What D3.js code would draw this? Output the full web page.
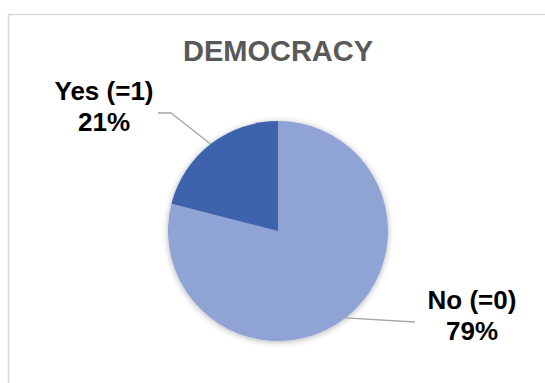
<!DOCTYPE html>
<html><head><meta charset="utf-8">
<script src="https://cdn.jsdelivr.net/npm/d3@7"></script>
<style>body{margin:0;background:#fff}svg{display:block}</style>
</head><body>
<script>
const categories = ["No (=0)", "Yes (=1)"];
const values = [79, 21];
const percentLabels = ["79%", "21%"];
const colors = ["#8FA3D4", "#3D63AD"];
const title = "DEMOCRACY";

const W = 545, H = 383;
const cx = 278, cy = 231, R = 110;
const svg = d3.select("body").append("svg").attr("width", W).attr("height", H);

const defs = svg.append("defs");
const f = defs.append("filter").attr("id", "sh").attr("x", "-20%").attr("y", "-20%").attr("width", "140%").attr("height", "140%");
f.append("feDropShadow").attr("dx", 0).attr("dy", 1).attr("stdDeviation", 3).attr("flood-color", "#000").attr("flood-opacity", 0.3);

svg.append("rect").attr("x", 8.5).attr("y", 14.5).attr("width", 600).attr("height", 400)
  .attr("fill", "#fff").attr("stroke", "#D9D9D9").attr("stroke-width", 1.5);

svg.append("text").attr("x", cx).attr("y", 61).attr("text-anchor", "middle")
  .attr("font-family", "Liberation Sans, Arial, sans-serif").attr("font-weight", "bold")
  .attr("font-size", 29).attr("fill", "#595959").text(title);

const pie = d3.pie().sort(null).value(d => d);
const arcs = pie(values);
const arc = d3.arc().innerRadius(0).outerRadius(R);
const g = svg.append("g").attr("transform", `translate(${cx},${cy})`);
g.append("g").attr("filter", "url(#sh)").selectAll("path").data(arcs).join("path")
  .attr("d", arc).attr("fill", (d, i) => colors[i]);

// label layout (positions relative to chart)
const labelPos = [{x: 472, y: 309, elbow: [415, 322], end: [415, 322]},
                  {x: 104, y: 100, elbow: [171, 113], end: [158, 113]}];
arcs.forEach((d, i) => {
  const a = (d.startAngle + d.endAngle) / 2;
  const sx = cx + R * Math.sin(a), sy = cy - R * Math.cos(a);
  const p = labelPos[i];
  svg.append("polyline").attr("points", [[sx, sy], p.elbow, p.end].map(q => q.join(",")).join(" "))
    .attr("fill", "none").attr("stroke", "#A6A6A6").attr("stroke-width", 1.3);
  const t = svg.append("text").attr("text-anchor", "middle")
    .attr("font-family", "Liberation Sans, Arial, sans-serif").attr("font-weight", "bold")
    .attr("font-size", 26).attr("fill", "#000");
  t.append("tspan").attr("x", p.x).attr("y", p.y).text(categories[i]);
  t.append("tspan").attr("x", p.x).attr("y", p.y + 31).text(percentLabels[i]);
});
</script>
</body></html>
